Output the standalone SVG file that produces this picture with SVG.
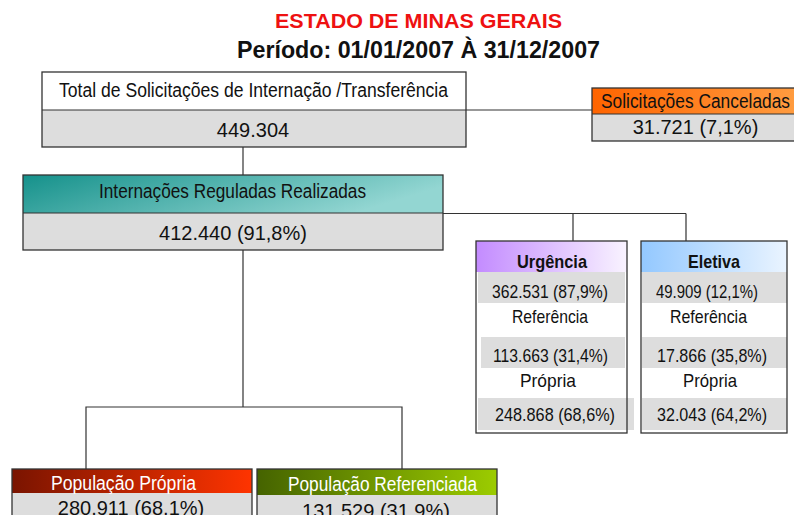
<svg xmlns="http://www.w3.org/2000/svg" width="794" height="515" viewBox="0 0 794 515">
<defs>
<linearGradient id="gTeal" x1="0" y1="0" x2="1" y2="0.3"><stop offset="0" stop-color="#15918b"/><stop offset="1" stop-color="#93d6d2"/></linearGradient>
<linearGradient id="gOrange" x1="0" y1="0" x2="1" y2="0"><stop offset="0" stop-color="#ff6400"/><stop offset="1" stop-color="#ff9c40"/></linearGradient>
<linearGradient id="gPurple" x1="0" y1="0" x2="1" y2="0"><stop offset="0" stop-color="#c38bff"/><stop offset="1" stop-color="#f9f3ff"/></linearGradient>
<linearGradient id="gBlue" x1="0" y1="0" x2="1" y2="0"><stop offset="0" stop-color="#93c8ff"/><stop offset="1" stop-color="#eaf4ff"/></linearGradient>
<linearGradient id="gRed" x1="0" y1="0" x2="1" y2="0"><stop offset="0" stop-color="#7a1400"/><stop offset="1" stop-color="#ff3400"/></linearGradient>
<linearGradient id="gGreen" x1="0" y1="0" x2="1" y2="0"><stop offset="0" stop-color="#456300"/><stop offset="1" stop-color="#9ccc00"/></linearGradient>
</defs>
<style>
text{font-family:"Liberation Sans",Arial,sans-serif;text-anchor:middle;fill:#111}
.num{font-size:20px}
.lab{font-size:20px}
.sm{font-size:19px}
.wh{fill:#ffffff}
.b{font-weight:bold}
.box{fill:none;stroke:#333;stroke-width:1.3}
.gray{fill:#dddddd}
.line{fill:none;stroke:#333;stroke-width:1.2}
</style>

<g id="title">
<text x="418.5" y="28" class="b" style="font-size:20px;fill:#ee1111" textLength="287" lengthAdjust="spacingAndGlyphs">ESTADO DE MINAS GERAIS</text>
<text x="418.5" y="58" class="b" style="font-size:23px" textLength="363" lengthAdjust="spacingAndGlyphs">Período: 01/01/2007 À 31/12/2007</text>
</g>

<g id="connectors">
<path class="line" d="M243 147 V175"/>
<path class="line" d="M466 110 H598"/>
<path class="line" d="M443 213.5 H686 M573 213.5 V241 M686 213.5 V241"/>
<path class="line" d="M243 250 V407 M86 469 V407 H402 V469"/>
</g>

<g id="total">
<rect x="42" y="72" width="424" height="38" fill="#ffffff"/>
<rect x="42" y="110" width="424" height="37" class="gray"/>
<rect x="42" y="72" width="424" height="75" class="box"/>
<line x1="42" y1="110" x2="466" y2="110" stroke="#333" stroke-width="1.2"/>
<text x="253.5" y="97" class="lab" textLength="389" lengthAdjust="spacingAndGlyphs">Total de Solicitações de Internação /Transferência</text>
<text x="253" y="137" class="num">449.304</text>
</g>

<g id="canceladas">
<rect x="592" y="88" width="205" height="26" fill="url(#gOrange)"/>
<rect x="592" y="114" width="205" height="27" class="gray"/>
<rect x="592" y="88" width="205" height="53" class="box"/>
<line x1="592" y1="114" x2="797" y2="114" stroke="#333" stroke-width="1"/>
<text x="695.5" y="108" class="lab" textLength="189" lengthAdjust="spacingAndGlyphs">Solicitações Canceladas</text>
<text x="695.5" y="134" class="num">31.721 (7,1%)</text>
</g>

<g id="internacoes">
<rect x="23" y="175" width="420" height="38" fill="url(#gTeal)"/>
<rect x="23" y="213" width="420" height="37" class="gray"/>
<rect x="23" y="175" width="420" height="75" class="box"/>
<line x1="23" y1="213" x2="443" y2="213" stroke="#333" stroke-width="1.2"/>
<text x="232.5" y="198" class="lab" textLength="267" lengthAdjust="spacingAndGlyphs">Internações Reguladas Realizadas</text>
<text x="233" y="240" class="num">412.440 (91,8%)</text>
</g>

<g id="urgencia">
<rect x="476" y="241" width="151" height="31" fill="url(#gPurple)"/>
<rect x="476" y="272" width="151" height="161" fill="#ffffff"/>
<rect x="478" y="272" width="147" height="31" class="gray"/>
<rect x="481" y="337" width="144" height="31" class="gray"/>
<rect x="478" y="398" width="156" height="32" class="gray"/>
<rect x="476" y="241" width="151" height="192" class="box"/>
<text x="552" y="268" class="sm b" textLength="70" lengthAdjust="spacingAndGlyphs">Urgência</text>
<text x="550" y="298" class="sm" textLength="116" lengthAdjust="spacingAndGlyphs">362.531 (87,9%)</text>
<text x="550" y="323" class="sm" textLength="76" lengthAdjust="spacingAndGlyphs">Referência</text>
<text x="550.5" y="362" class="sm" textLength="115" lengthAdjust="spacingAndGlyphs">113.663 (31,4%)</text>
<text x="548" y="387" class="sm" textLength="56" lengthAdjust="spacingAndGlyphs">Própria</text>
<text x="555" y="421" class="sm" textLength="120" lengthAdjust="spacingAndGlyphs">248.868 (68,6%)</text>
</g>

<g id="eletiva">
<rect x="641" y="241" width="146" height="31" fill="url(#gBlue)"/>
<rect x="641" y="272" width="146" height="161" fill="#ffffff"/>
<rect x="642" y="272" width="145" height="31" class="gray"/>
<rect x="642" y="337" width="145" height="31" class="gray"/>
<rect x="642" y="398" width="145" height="32" class="gray"/>
<rect x="641" y="241" width="146" height="192" class="box"/>
<text x="714" y="268" class="sm b" textLength="52" lengthAdjust="spacingAndGlyphs">Eletiva</text>
<text x="707" y="298" class="sm" textLength="102" lengthAdjust="spacingAndGlyphs">49.909 (12,1%)</text>
<text x="708.5" y="323" class="sm" textLength="77" lengthAdjust="spacingAndGlyphs">Referência</text>
<text x="712" y="362" class="sm" textLength="110" lengthAdjust="spacingAndGlyphs">17.866 (35,8%)</text>
<text x="710" y="387" class="sm" textLength="54" lengthAdjust="spacingAndGlyphs">Própria</text>
<text x="712" y="421" class="sm" textLength="110" lengthAdjust="spacingAndGlyphs">32.043 (64,2%)</text>
</g>

<g id="pop-propria">
<rect x="12" y="469" width="240" height="24" fill="url(#gRed)"/>
<rect x="12" y="493" width="240" height="30" class="gray"/>
<rect x="12" y="469" width="240" height="54" class="box"/>
<text x="123.5" y="490" class="lab wh" textLength="145" lengthAdjust="spacingAndGlyphs">População Própria</text>
<text x="131" y="515" class="num">280.911 (68,1%)</text>
</g>

<g id="pop-referenciada">
<rect x="257" y="469" width="240" height="26" fill="url(#gGreen)"/>
<rect x="257" y="495" width="240" height="30" class="gray"/>
<rect x="257" y="469" width="240" height="56" class="box"/>
<text x="382.5" y="491" class="lab wh" textLength="189" lengthAdjust="spacingAndGlyphs">População Referenciada</text>
<text x="376" y="518" class="num">131.529 (31,9%)</text>
</g>
</svg>
